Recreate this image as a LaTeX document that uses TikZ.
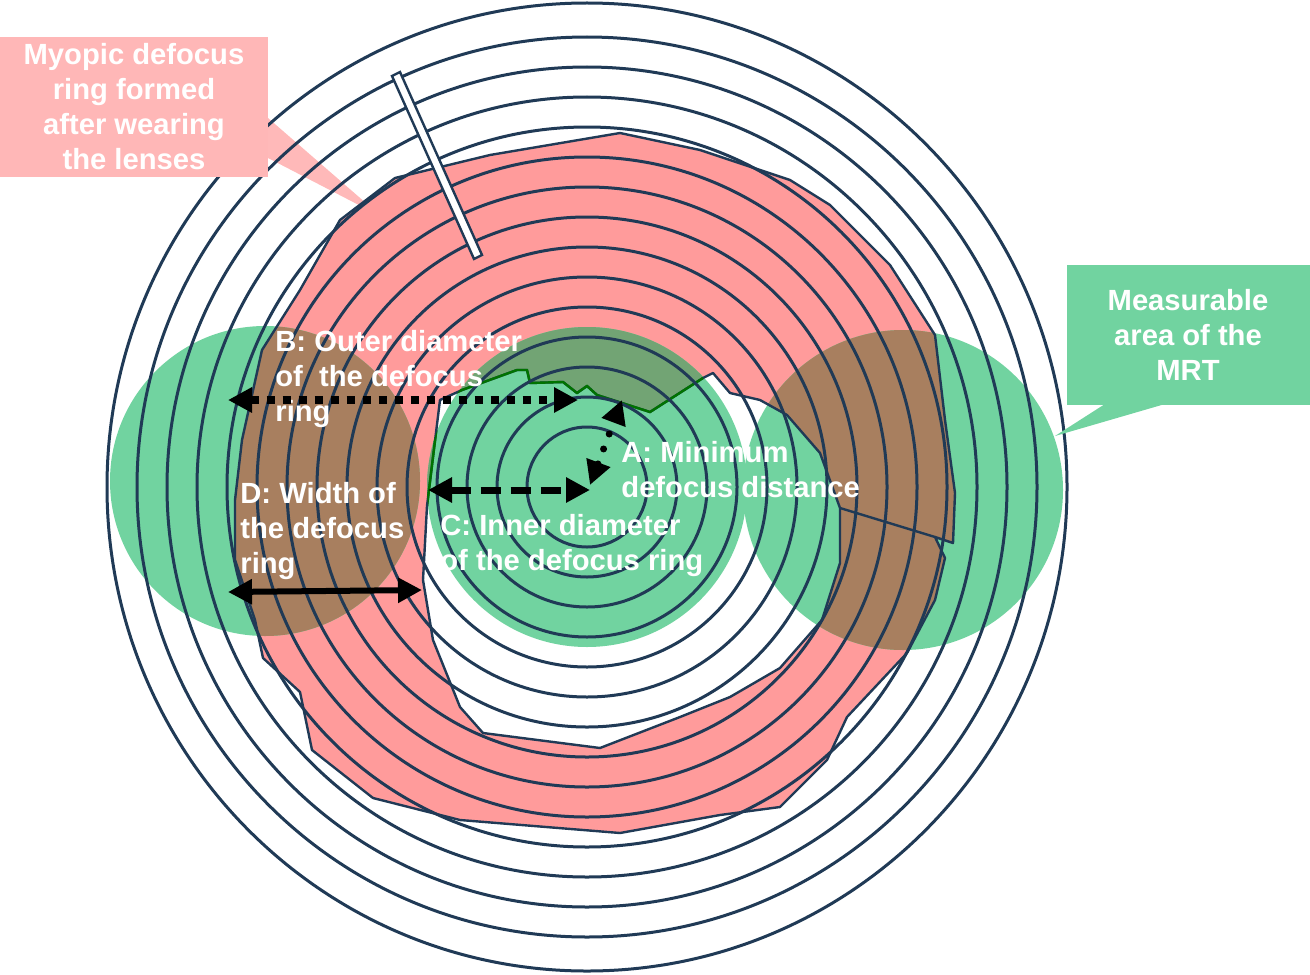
\documentclass[tikz,border=0pt]{standalone}
\usepackage{fontspec}
\setmainfont{Liberation Sans}
\usetikzlibrary{positioning, arrows.meta, calc}

\definecolor{ringline}{HTML}{203A56}
\definecolor{defocus}{HTML}{FF9B9B}
\definecolor{mrt}{HTML}{71D3A0}
\definecolor{overlap}{HTML}{A87F5F}
\definecolor{olive}{HTML}{72A474}
\definecolor{tagpink}{HTML}{FFB7B7}

% outline of the defocus ring: outer edge, then the hole
\newcommand{\ringpath}{(340,220) -- (395,178) -- (490,155) -- (620,133) -- (700,150) -- (790,180) -- (830,205) -- (890,265) -- (935,335) -- (945,420) -- (955,493) -- (953,543) -- (935,537) -- (945,558) -- (935,600) -- (907,653) -- (847,717) -- (827,760) -- (780,807) -- (720,815) -- (620,833) -- (460,820) -- (373,798) -- (312,750) -- (300,692) -- (263,658) -- (255,620) -- (235,560) -- (235,500) -- (242,440) -- (262,350) -- (300,290) -- cycle
  (427,506) -- (423,580) -- (433,640) -- (460,707) -- (483,733) -- (600,748) -- (680,717) -- (730,697) -- (780,668) -- (822,620) -- (840,563) -- (840,508) -- (820,453) -- (787,415) -- (760,400) -- (730,393) -- (713,373) -- (703,378) -- (650,412) -- (597,395) -- (587,386) -- (577,393) -- (563,382) -- (530,383) -- (527,370) -- (517,370) -- (462,390) -- (440,400) -- cycle}

\begin{document}
\begin{tikzpicture}[
    x=0.5pt, y=-0.5pt,
    >={Triangle[length=12pt, width=12pt]},
    ring/.style={draw=ringline, line width=1.5pt},
    label/.style={text=white, font=\bfseries\fontsize{14.6}{17.5}\selectfont, align=left, inner sep=0pt},
    tag/.style={text=white, font=\bfseries\fontsize{14.6}{17.5}\selectfont, align=center}
]
    \useasboundingbox (0,0) rectangle (1310,974);
    \coordinate (c) at (587,487);

    % pointer of the pink tag (under the rings)
    \fill[defocus, opacity=0.7] (268,118) -- (382,217) -- (268,158) -- cycle;

    % defocus ring and measurable areas
    \fill[defocus, even odd rule] \ringpath;
    \fill[mrt] (265,481) circle[radius=155];
    \fill[mrt] (903,490) circle[radius=160];
    \fill[mrt] (c) circle[radius=160];
    \begin{scope}[even odd rule]
        \clip \ringpath;
        \fill[overlap] (265,481) circle[radius=155];
        \fill[overlap] (903,490) circle[radius=160];
        \fill[olive] (c) circle[radius=160];
    \end{scope}
    \draw[ringline, line width=1.2pt, line join=round] \ringpath;
    \begin{scope}
        \clip (c) circle[radius=160];
        \draw[green!45!black, line width=1.2pt] (427,506) -- (440,400) -- (462,390) -- (517,370) -- (527,370) -- (530,383) -- (563,382) -- (577,393) -- (587,386) -- (597,395) -- (650,412) -- (703,378);
    \end{scope}
    \draw[ringline, line width=1.2pt] (840,508) -- (935,537);

    % concentric rings
    \foreach \r in {60,90,...,450}
        \draw[ring] (c) circle[radius=\r];
    \draw[ring] (c) ellipse[x radius=480, y radius=484];

    % radial slot
    \filldraw[fill=white, draw=ringline, line width=1.2pt] (392,76) -- (400,72) -- (482,255) -- (474,259) -- cycle;

    % labels
    \node[label, anchor=north west] (outer) at (275,330) {B: Outer diameter\\of\ \ the defocus\\ring};
    \node[label, anchor=north west] (mindist) at (621,441) {A: Minimum\\defocus distance};
    \node[label, anchor=north west] (inner) at (440,514) {C: Inner diameter\\of the defocus ring};
    \node[label, anchor=north west] (width) at (240,482) {D: Width of\\the defocus\\ring};

    % measuring arrows
    \coordinate (b1) at (228,400);
    \coordinate (b2) at (578,400);
    \coordinate (c1) at (428,490);
    \coordinate (c2) at (590,490);
    \coordinate (a1) at (590,485);
    \coordinate (a2) at (622,400);
    \coordinate (d1) at (228,592);
    \coordinate (d2) at (422,590);
    \draw[<->, line width=4pt, dash pattern=on 4pt off 4pt] (b1) -- (b2);
    \draw[<->, line width=3.5pt, dash pattern=on 10pt off 5pt] (c1) -- (c2);
    \draw[<->, line width=3.5pt, line cap=round, dash pattern=on 0pt off 8pt] (a1) -- (a2);
    \draw[<->, line width=3pt] (d1) -- (d2);

    % tags
    \fill[tagpink] (0,37) rectangle (268,177);
    \node[tag] (myopic) at (134,107) {Myopic defocus\\ring formed\\after wearing\\the lenses};
    \fill[mrt] (1105,404) -- (1055,436) -- (1165,404) -- cycle;
    \fill[mrt] (1067,265) rectangle (1310,405);
    \node[tag] (measure) at (1188,335) {Measurable\\area of the\\MRT};
\end{tikzpicture}
\end{document}
